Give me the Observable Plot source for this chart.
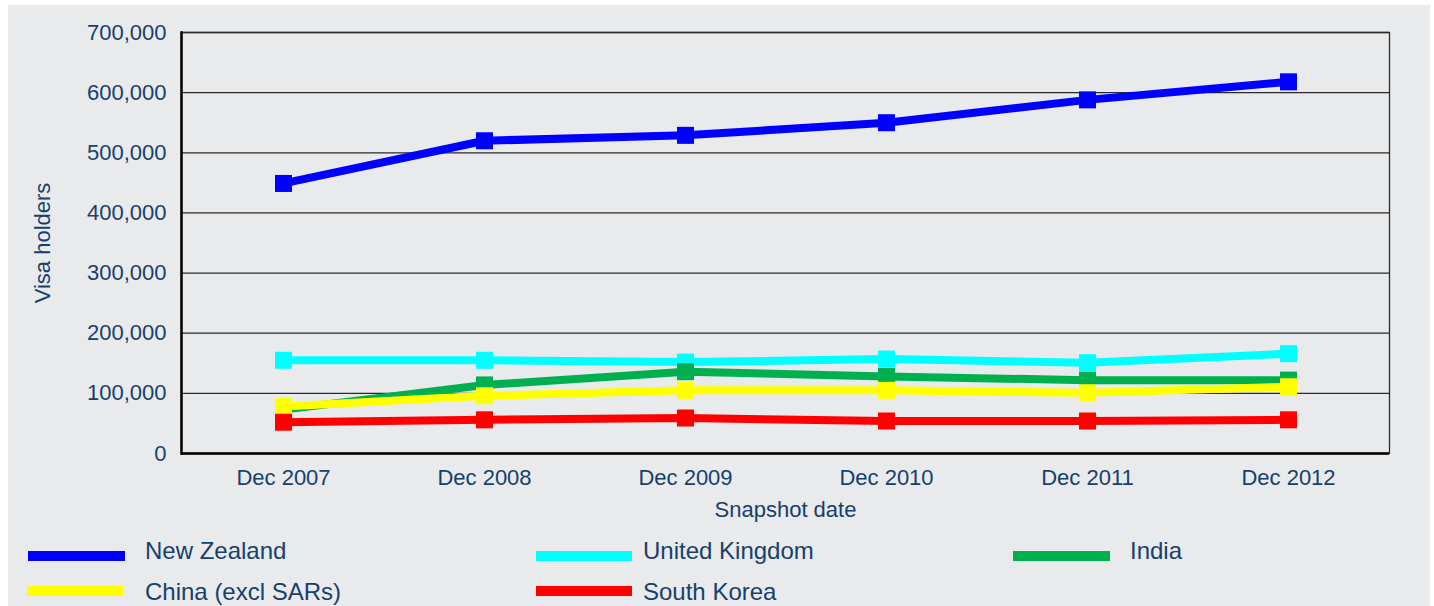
<!DOCTYPE html>
<html>
<head>
<meta charset="utf-8">
<script src="https://cdn.jsdelivr.net/npm/d3@7"></script>
<script src="https://cdn.jsdelivr.net/npm/@observablehq/plot@0.6"></script>
<style>
  html, body { margin: 0; padding: 0; background: #ffffff; }
  body { width: 1434px; height: 606px; position: relative; overflow: hidden;
         font-family: "Liberation Sans", Arial, sans-serif; color: #17406d; }
  #bg { position: absolute; left: 8px; top: 5px; width: 1422px; height: 601px; background: #e9eaec; }
  #chart { position: absolute; left: 8px; top: 5px; }
  .sw { position: absolute; height: 10px; }
  .lb { position: absolute; font-size: 24px; line-height: 24px; white-space: nowrap; }
</style>
</head>
<body>
<div id="bg"></div>
<div id="chart"></div>
<div id="legend"></div>
<script>
const dates = ["Dec 2007", "Dec 2008", "Dec 2009", "Dec 2010", "Dec 2011", "Dec 2012"];
const seriesNames = ["New Zealand", "United Kingdom", "India", "China (excl SARs)", "South Korea"];
const seriesColors = ["#0000ff", "#00ffff", "#00b050", "#ffff00", "#ff0000"];
const newZealand    = [449000, 520000, 529000, 550000, 588000, 618000];
const unitedKingdom = [155000, 155000, 152000, 157000, 151000, 166000];
const india         = [ 73000, 114000, 136000, 128000, 122000, 122000];
const china         = [ 78000,  96000, 105000, 105000, 101000, 111000];
const southKorea    = [ 52000,  56000,  59000,  54000,  54000,  56000];
const yTicks = [0, 100000, 200000, 300000, 400000, 500000, 600000, 700000];
const xTitle = "Snapshot date";
const yTitle = "Visa holders";

const seriesValues = [newZealand, unitedKingdom, india, china, southKorea];
const rows = seriesNames.flatMap((s, k) => dates.map((d, i) => ({series: s, date: d, value: seriesValues[k][i]})));

const textColor = "#17406d";
const seriesMarks = seriesNames.flatMap(s => {
  const data = rows.filter(r => r.series === s);
  return [
    Plot.line(data, {x: "date", y: "value", stroke: "series", strokeWidth: 8, strokeLinejoin: "round"}),
    Plot.dot(data, {x: "date", y: "value", fill: "series", symbol: "square", r: 9.6, stroke: null})
  ];
});

const chart = Plot.plot({
  width: 1426,
  height: 515,
  marginLeft: 173,
  marginRight: 45,
  marginTop: 27,
  marginBottom: 67,
  style: {fontFamily: "'Liberation Sans', Arial, sans-serif", fontSize: "22px", color: textColor, background: "transparent", overflow: "visible"},
  x: {type: "point", domain: dates, padding: 0.5, label: null},
  y: {domain: [0, 700000], label: null},
  color: {type: "ordinal", domain: seriesNames, range: seriesColors},
  marks: [
    Plot.ruleY(yTicks, {stroke: "#2a2a2a", strokeWidth: 1.3}),
    Plot.frame({stroke: "#2a2a2a", strokeWidth: 1.3}),
    Plot.axisY({ticks: yTicks, tickSize: 0, tickPadding: 15, tickFormat: d => d3.format(",")(d), fontSize: 22, label: null}),
    Plot.axisX({tickSize: 0, tickPadding: 16, fontSize: 22, label: null}),
    ...seriesMarks,
    Plot.ruleY([0], {stroke: "#000", strokeWidth: 2.5}),
    Plot.frame({anchor: "left", stroke: "#000", strokeWidth: 2.5}),
    Plot.text([xTitle], {frameAnchor: "bottom", dy: 63, fill: textColor, fontSize: 22}),
    Plot.text([yTitle], {frameAnchor: "left", dx: -139, rotate: -90, textAnchor: "middle", fill: textColor, fontSize: 22})
  ]
});
document.getElementById("chart").appendChild(chart);

// Legend (HTML below the plot)
const legendPos = [
  {sw: 28, lb: 145, top: 551, lt: 539, w: 97},
  {sw: 536, lb: 643, top: 551, lt: 539, w: 96},
  {sw: 1013, lb: 1130, top: 551, lt: 539, w: 97},
  {sw: 27, lb: 145, top: 586, lt: 580, w: 96},
  {sw: 536, lb: 643, top: 586, lt: 580, w: 96}
];
const legend = document.getElementById("legend");
seriesNames.forEach((s, i) => {
  const p = legendPos[i];
  const sw = document.createElement("div");
  sw.className = "sw";
  sw.style.left = p.sw + "px"; sw.style.top = p.top + "px"; sw.style.width = p.w + "px";
  sw.style.background = seriesColors[i];
  legend.appendChild(sw);
  const lb = document.createElement("div");
  lb.className = "lb";
  lb.style.left = p.lb + "px"; lb.style.top = p.lt + "px";
  lb.textContent = s;
  legend.appendChild(lb);
});
</script>
</body>
</html>
